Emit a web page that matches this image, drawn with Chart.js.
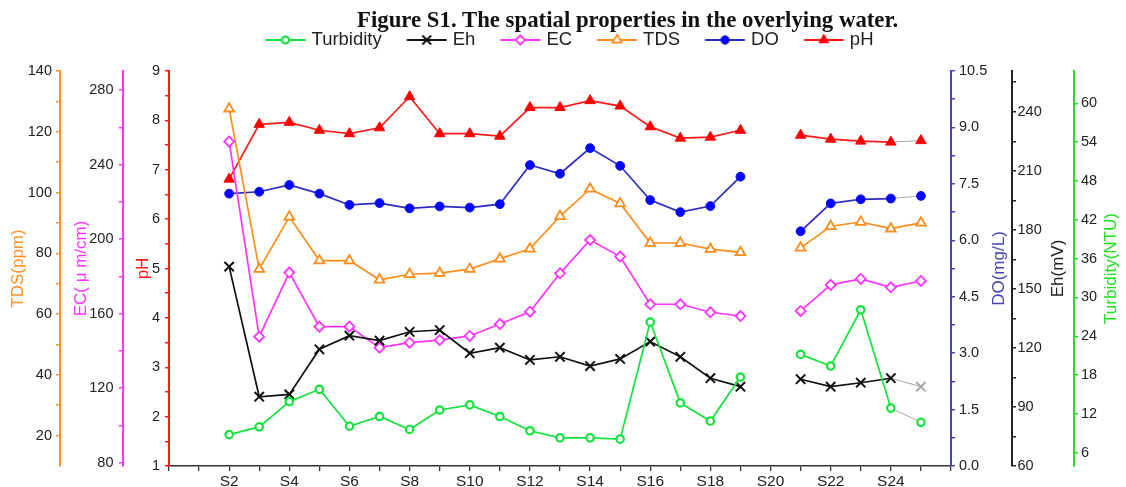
<!DOCTYPE html>
<html><head><meta charset="utf-8">
<script src="https://cdn.jsdelivr.net/npm/chart.js@4.4.1/dist/chart.umd.min.js"></script>
<style>
html,body{margin:0;padding:0;background:#fff;}
#wrap{position:relative;width:1126px;height:487px;overflow:hidden;background:#fff;}
#title{position:absolute;left:357px;top:9px;font:bold 22.8px "Liberation Serif",serif;line-height:1;white-space:nowrap;color:#111;}
canvas{position:absolute;left:0;top:0;}
</style></head><body>
<div id="wrap"><canvas id="c" width="1126" height="487"></canvas><div id="title">Figure S1. The spatial properties in the overlying water.</div></div>
<script>
// ---- data ----
const stations = ['S2','S3','S4','S5','S6','S7','S8','S9','S10','S11','S12','S13','S14','S15','S16','S17','S18','S19','S20','S21','S22','S23','S24','S25'];
const turbidity = [8.8, 10.0, 13.9, 15.8, 10.1, 11.6, 9.6, 12.6, 13.4, 11.6, 9.4, 8.3, 8.3, 8.1, 26.2, 13.7, 10.9, 17.7, null, 21.2, 19.4, 28.1, 12.9, 10.7];
const eh = [161.3, 95.2, 96.4, 119.3, 126.2, 123.7, 128.2, 129.1, 117.3, 120.1, 113.9, 115.5, 110.8, 114.4, 123.2, 115.5, 104.6, 100.3, null, 104.1, 100.3, 102.3, 104.6, 100.3];
const ec = [252.3, 147.6, 182.0, 153.0, 153.0, 141.7, 144.4, 145.8, 148.0, 154.4, 161.0, 181.6, 199.5, 190.6, 165.0, 165.0, 160.7, 158.7, null, 161.4, 175.4, 178.6, 174.1, 177.5];
const tds = [127.6, 74.8, 92.0, 77.6, 77.6, 71.3, 73.1, 73.5, 74.8, 78.2, 81.5, 92.2, 101.2, 96.4, 83.4, 83.4, 81.4, 80.3, null, 81.8, 88.9, 90.3, 88.1, 90.0];
const dox = [7.24, 7.29, 7.47, 7.24, 6.94, 6.99, 6.85, 6.90, 6.87, 6.96, 8.00, 7.77, 8.45, 7.98, 7.07, 6.75, 6.91, 7.69, null, 6.24, 6.98, 7.09, 7.11, 7.18];
const ph = [6.81, 7.92, 7.96, 7.80, 7.73, 7.85, 8.48, 7.73, 7.73, 7.68, 8.26, 8.26, 8.40, 8.29, 7.87, 7.64, 7.66, 7.80, null, 7.70, 7.62, 7.58, 7.56, 7.59];

// ---- tick labels ----
const xTickLabels = ['S2','S4','S6','S8','S10','S12','S14','S16','S18','S20','S22','S24'];
const xTickPositions = [0,1,2,3,4,5,6,7,8,9,10,11,12,13,14,15,16,17,18,19,20,21,22,23,24,25,26];
const tdsTicks = [20,40,60,80,100,120,140];
const tdsMinor = [30,50,70,90,110,130];
const ecTicks = [80,120,160,200,240,280];
const ecMinor = [100,140,180,220,260];
const phTicks = [1,2,3,4,5,6,7,8,9];
const phMinor = [1.5,2.5,3.5,4.5,5.5,6.5,7.5,8.5];
const doTicks = [0,1.5,3,4.5,6,7.5,9,10.5];
const doMinor = [0.75,2.25,3.75,5.25,6.75,8.25,9.75];
const ehTicks = [60,90,120,150,180,210,240];
const ehMinor = [75,105,135,165,195,225,255];
const turbTicks = [6,12,18,24,30,36,42,48,54,60];
const turbMinor = [];

const C = {
  turb: '#14e23c', eh: '#111111', ec: '#ff33ff', tds: '#ff8c1a',
  doLine: '#2c2cc0', doPt: '#0505ff', doAxis: '#4646b8', ph: '#ff1a1a', tail: '#a8a8a8'
};

Chart.defaults.font.family = '"Liberation Sans", Arial, sans-serif';
Chart.defaults.color = '#222';

const stationNo = s => Number(s.slice(1));
const lastIdx = stations.length - 1;
const grayTail = {
  borderColor: c => c.p1DataIndex === lastIdx ? C.tail : undefined,
  borderWidth: c => c.p1DataIndex === lastIdx ? 1 : undefined
};

function series(label, values, yAxisID, style) {
  return Object.assign({
    label, yAxisID, xAxisID: 'x',
    data: stations.map((s, i) => ({x: stationNo(s), y: values[i]})),
    spanGaps: false, tension: 0, borderWidth: 1.7, fill: false
  }, style);
}

const datasets = [
  series('Turbidity', turbidity, 'yTurb', {borderColor: C.turb, pointStyle: 'circle', pointRadius: 3.7, pointBorderWidth: 2.2, pointBackgroundColor: '#fff', pointBorderColor: C.turb, segment: grayTail}),
  series('Eh', eh, 'yEh', {borderColor: C.eh, pointStyle: 'crossRot', pointRadius: 6.6, pointBorderWidth: 2, pointBorderColor: c => c.dataIndex === lastIdx ? C.tail : C.eh, pointBackgroundColor: C.eh, segment: grayTail}),
  series('EC', ec, 'yEC', {borderColor: C.ec, pointStyle: 'rectRot', pointRadius: 5, pointBorderWidth: 1.8, pointBackgroundColor: '#fff', pointBorderColor: C.ec}),
  series('TDS', tds, 'yTDS', {borderColor: C.tds, pointStyle: 'triangle', pointRadius: 5.6, pointBorderWidth: 1.8, pointBackgroundColor: '#fff', pointBorderColor: C.tds}),
  series('DO', dox, 'yDO', {borderColor: C.doLine, pointStyle: 'circle', pointRadius: 4.4, pointBorderWidth: 1, pointBackgroundColor: C.doPt, pointBorderColor: C.doPt, segment: grayTail}),
  series('pH', ph, 'yPH', {borderColor: C.ph, pointStyle: 'triangle', pointRadius: 6, pointBorderWidth: 1, pointBackgroundColor: '#ff0000', pointBorderColor: '#ff0000', segment: grayTail})
];

// legend symbols: line with marker
function legendImg(ds) {
  const cv = document.createElement('canvas');
  cv.width = 57; cv.height = 18;
  const g = cv.getContext('2d');
  g.strokeStyle = ds.borderColor; g.lineWidth = 2;
  g.beginPath(); g.moveTo(16.6, 9); g.lineTo(56.6, 9); g.stroke();
  const pb = typeof ds.pointBorderColor === 'function' ? ds.borderColor : ds.pointBorderColor;
  g.fillStyle = ds.pointBackgroundColor; g.strokeStyle = pb; g.lineWidth = ds.pointBorderWidth;
  Chart.helpers.drawPoint(g, {pointStyle: ds.pointStyle, radius: ds.pointRadius * 0.95, borderWidth: ds.pointBorderWidth, rotation: 0}, 36.6, 9);
  return cv;
}
const legendImages = datasets.map(legendImg);

function yAxis(o) {
  return {
    type: 'linear', position: o.pos, weight: o.weight, min: o.min, max: o.max,
    afterBuildTicks: s => { s.ticks = o.major.concat(o.minor).sort((a, b) => a - b).map(v => ({value: v})); },
    afterFit: s => { s.width = o.width; },
    ticks: {autoSkip: false, padding: o.labelPad, color: '#222', font: {size: 14.5},
            callback: v => o.major.includes(v) ? o.fmt(v) : ''},
    grid: {drawOnChartArea: false, drawTicks: true, tickLength: 4, color: o.color, lineWidth: 1.5},
    border: {display: true, color: o.color, width: 2},
    title: {display: o.pos === 'left', text: o.title, color: o.color, font: {size: 17},
            padding: {top: o.titlePad, bottom: 0}, _rightOffset: o.rightOffset}
  };
}
const int = v => String(v);

const rightTitles = {
  id: 'rightTitles',
  afterDraw(chart) {
    const ctx = chart.ctx;
    Object.values(chart.scales).forEach(sc => {
      if (sc.options.position !== 'right') return;
      const t = sc.options.title;
      ctx.save();
      ctx.translate(sc.right - t._rightOffset, (sc.top + sc.bottom) / 2);
      ctx.rotate(-Math.PI / 2);
      ctx.textAlign = 'center'; ctx.textBaseline = 'middle';
      ctx.font = '17px "Liberation Sans", Arial, sans-serif';
      ctx.fillStyle = t.color;
      ctx.fillText(t.text, 0, 0);
      ctx.restore();
    });
  }
};

new Chart(document.getElementById('c'), {
  type: 'line',
  data: {datasets},
  plugins: [rightTitles],
  options: {
    responsive: false, animation: false, devicePixelRatio: 1,
    layout: {padding: {top: 18.75, left: 0, right: 0, bottom: 0}},
    plugins: {
      tooltip: {enabled: false},
      title: {display: false},
      legend: {
        display: true, position: 'top',
        labels: {
          usePointStyle: true, pointStyleWidth: 49.75, padding: 12, color: '#222',
          font: {size: 18.5},
          generateLabels: chart => Chart.defaults.plugins.legend.labels.generateLabels(chart)
            .map((it, i) => Object.assign(it, {pointStyle: legendImages[i]}))
        }
      }
    },
    scales: {
      x: {
        type: 'linear', position: 'bottom', min: 0, max: 26,
        afterBuildTicks: s => { s.ticks = xTickPositions.map(v => ({value: v})); },
        afterFit: s => { s.height = 21; },
        ticks: {autoSkip: false, maxRotation: 0, padding: 1, color: '#222', font: {size: 15.5},
                callback: v => { const l = xTickLabels.find(t => stationNo(t) === v); return l || ''; }},
        grid: {drawOnChartArea: false, drawTicks: true, tickLength: 5, color: '#333', lineWidth: 1.3},
        border: {display: true, color: '#333', width: 1.5}
      },
      xTop: {
        type: 'linear', position: 'top', display: true,
        afterFit: s => { s.height = 11.75; },
        ticks: {display: false}, grid: {display: false}, border: {display: false}
      },
      yPH: yAxis({pos: 'left', weight: 0, min: 1, max: 9, major: phTicks, minor: phMinor, fmt: int, color: '#ff1a1a', width: 46, title: 'pH', titlePad: 9.8, labelPad: 5}),
      yEC: yAxis({pos: 'left', weight: 1, min: 78.2, max: 290.2, major: ecTicks, minor: ecMinor, fmt: int, color: '#ff33ff', width: 63, title: 'EC( μ m/cm)', titlePad: 11.5, labelPad: 5.5}),
      yTDS: yAxis({pos: 'left', weight: 2, min: 10, max: 140, major: tdsTicks, minor: tdsMinor, fmt: int, color: '#ff9326', width: 60, title: 'TDS(ppm)', titlePad: 8, labelPad: 4}),
      yDO: yAxis({pos: 'right', weight: 0, min: 0, max: 10.5, major: doTicks, minor: doMinor, fmt: v => v.toFixed(1), color: C.doAxis, width: 61, title: 'DO(mg/L)', labelPad: 4, rightOffset: 13}),
      yEh: yAxis({pos: 'right', weight: 1, min: 60, max: 260.7, major: ehTicks, minor: ehMinor, fmt: int, color: '#222', width: 62, title: 'Eh(mV)', labelPad: 1.5, rightOffset: 16}),
      yTurb: yAxis({pos: 'right', weight: 2, min: 3.95, max: 65, major: turbTicks, minor: turbMinor, fmt: int, color: '#22e022', width: 52, title: 'Turbidity(NTU)', labelPad: 3, rightOffset: 15})
    }
  }
});
</script>
</body></html>
